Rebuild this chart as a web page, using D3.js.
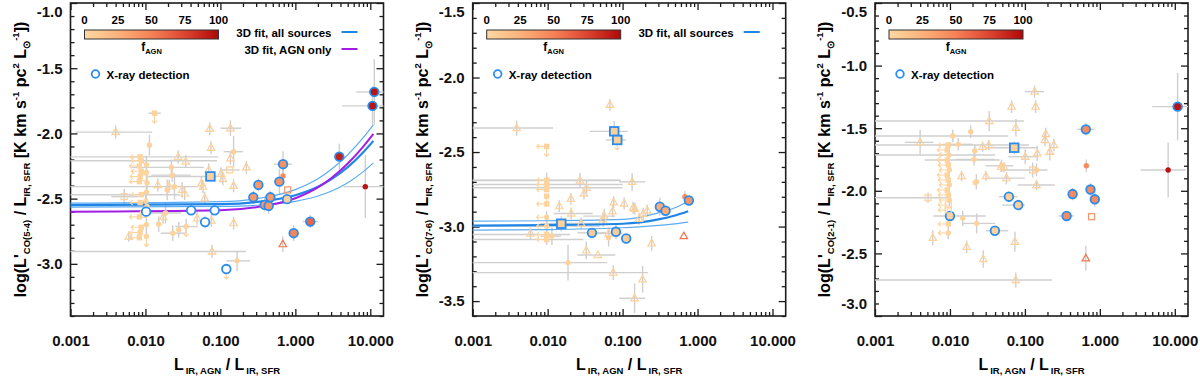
<!DOCTYPE html>
<html>
<head>
<meta charset="utf-8">
<script src="https://cdn.jsdelivr.net/npm/d3@7"></script>
<style>
	body { margin: 0; background: #fff; }
	svg { display: block; font-family: 'Liberation Sans', Arial, sans-serif; font-weight: bold; }
</style>
</head>
<body>
<div id="chart"></div>
<script>
// columns: L_IR,AGN/L_IR,SFR, log ratio, fAGN, marker, X-ray, x err low, x err high, y err, limit
// marker: c filled circle, o open circle, t open triangle, s open square, S filled square
const co54 = [
	[0.004, -1.99, 4, 't', 0, 0.00117, 0.0123, 0.05, ''],
	[0.0132, -1.845, 4, 'S', 0, 0.011, 0.016, 0, 'd'],
	[0.0113, -2.09, 4, 'c', 0, 0, 0, 0.08, ''],
	[0.072, -1.965, 6, 't', 0, 0, 0, 0.05, ''],
	[0.136, -1.96, 6, 't', 0, 0.1, 0.19, 0.06, ''],
	[0.075, -2.11, 6, 't', 0, 0, 0, 0.05, ''],
	[0.15, -2.14, 6, 'c', 0, 0.11, 0.2, 0.12, ''],
	[0.0273, -2.18, 4, 't', 0, 0, 0, 0.05, ''],
	[0.0345, -2.215, 4, 't', 0, 0, 0, 0.05, ''],
	[0.136, -2.19, 6, 't', 0, 0, 0, 0.05, ''],
	[0.0222, -2.26, 4, 'c', 0, 0.0065, 0.06, 0.06, ''],
	[0.133, -2.28, 6, 's', 0, 0.1, 0.18, 0, ''],
	[0.222, -2.26, 8, 't', 0, 0, 0, 0.05, ''],
	[0.0698, -2.28, 5, 't', 0, 0, 0, 0.05, ''],
	[0.102, -2.31, 5, 't', 0, 0, 0, 0.05, ''],
	[0.108, -2.35, 5, 't', 0, 0, 0, 0.05, ''],
	[0.0736, -2.33, 4, 'S', 1, 0, 0, 0, ''],
	[0.0227, -2.32, 4, 'c', 0, 0.012, 0.04, 0.05, ''],
	[0.0146, -2.395, 4, 't', 0, 0, 0, 0.05, ''],
	[0.0207, -2.405, 4, 't', 0, 0, 0, 0.05, ''],
	[0.0308, -2.433, 4, 't', 0, 0, 0, 0.06, ''],
	[0.0334, -2.46, 4, 't', 0, 0, 0, 0.05, ''],
	[0.0195, -2.433, 4, 'c', 0, 0, 0, 0.08, ''],
	[0.0244, -2.408, 4, 'c', 0, 0.001, 0.05, 0.1, ''],
	[0.0558, -2.382, 5, 't', 0, 0, 0, 0.05, ''],
	[0.0585, -2.408, 5, 't', 0, 0, 0, 0.05, ''],
	[0.0052, -2.485, 4, 's', 0, 0.0035, 0.008, 0.06, ''],
	[0.0618, -2.497, 5, 't', 0, 0, 0, 0.05, ''],
	[0.15, -2.402, 6, 't', 0, 0, 0, 0.05, ''],
	[0.0185, -2.61, 4, 'c', 0, 0.01, 0.03, 0.08, ''],
	[0.0172, -2.642, 4, 't', 0, 0, 0, 0.05, ''],
	[0.0489, -2.65, 4, 't', 0, 0, 0, 0.05, ''],
	[0.0759, -2.668, 5, 't', 0, 0, 0, 0.05, ''],
	[0.15, -2.688, 6, 't', 0, 0, 0, 0.05, ''],
	[0.015, -2.696, 4, 'c', 0, 0, 0, 0.06, ''],
	[0.0349, -2.714, 4, 'c', 0, 0.025, 0.05, 0.06, 'd'],
	[0.0278, -2.739, 4, 'c', 0, 0, 0, 0.06, ''],
	[0.0231, -2.765, 4, 'c', 0, 0.016, 0.034, 0.06, ''],
	[0.006, -2.79, 4, 't', 0, 0, 0, 0.04, ''],
	[0.0775, -2.906, 5, 't', 0, 0.001, 0.22, 0.05, ''],
	[0.167, -2.977, 6, 'c', 0, 0.12, 0.25, 0.08, ''],
	[0.0085, -2.18, 3, 'S', 0, 0.001, 0.094, 0, 'l'],
	[0.0088, -2.21, 3, 'S', 0, 0.001, 0.09, 0, 'l'],
	[0.0083, -2.25, 3, 'S', 0, 0, 0, 0, 'l'],
	[0.0088, -2.29, 3, 'S', 0, 0, 0, 0, 'l'],
	[0.0085, -2.33, 3, 'S', 0, 0.0105, 0.09, 0, 'l'],
	[0.0083, -2.37, 3, 'S', 0, 0, 0, 0, 'l'],
	[0.0088, -2.47, 3, 'S', 0, 0.001, 0.029, 0, 'l'],
	[0.0085, -2.53, 3, 'S', 0, 0, 0, 0, 'l'],
	[0.0083, -2.64, 3, 'S', 0, 0, 0, 0, 'l'],
	[0.0088, -2.72, 3, 'S', 0, 0, 0, 0, 'l'],
	[0.0085, -2.76, 3, 'S', 0, 0, 0, 0, 'l'],
	[0.0083, -2.8, 3, 'S', 0, 0, 0, 0, 'l'],
	[0.0103, -2.24, 3, 'c', 0, 0, 0, 0.07, ''],
	[0.0103, -2.3, 3, 'c', 0, 0, 0, 0.06, ''],
	[0.0105, -2.38, 3, 'c', 0, 0, 0, 0.06, ''],
	[0.0103, -2.45, 3, 'c', 0, 0, 0, 0.08, ''],
	[0.0101, -2.52, 3, 'c', 0, 0, 0, 0.06, ''],
	[0.0105, -2.56, 3, 'c', 0, 0, 0, 0.06, ''],
	[0.0103, -2.7, 3, 'c', 0, 0, 0, 0.08, ''],
	[0.0103, -2.79, 3, 'c', 0, 0, 0, 0, 'd'],
	[0.0096, -2.34, 3, 's', 0, 0, 0, 0, ''],
	[0.0094, -2.62, 3, 's', 0, 0, 0, 0, ''],
	[0.0102, -2.6, 3, 'o', 1, 0, 0, 0, ''],
	[0.0407, -2.59, 3, 'o', 1, 0, 0, 0, ''],
	[0.084, -2.59, 3, 'o', 1, 0, 0, 0, ''],
	[0.0625, -2.68, 3, 'o', 1, 0, 0, 0.05, ''],
	[0.12, -3.04, 3, 'o', 1, 0, 0, 0, 'd'],
	[0.685, -2.236, 42, 'c', 1, 0.52, 0.9, 0.1, ''],
	[0.685, -2.326, 45, 'c', 0, 0, 0, 0.05, ''],
	[0.612, -2.37, 42, 'c', 1, 0, 0, 0.1, ''],
	[0.321, -2.395, 38, 'c', 1, 0, 0, 0.05, ''],
	[0.79, -2.433, 40, 's', 0, 0, 0, 0, ''],
	[0.275, -2.49, 38, 'c', 1, 0, 0, 0.05, ''],
	[0.464, -2.49, 38, 'c', 1, 0, 0, 0.05, ''],
	[0.39, -2.548, 38, 'c', 1, 0, 0, 0.05, ''],
	[0.44, -2.556, 38, 'c', 1, 0, 0, 0.06, ''],
	[0.775, -2.504, 5, 'c', 1, 0, 0, 0, ''],
	[1.58, -2.676, 62, 'c', 1, 1.25, 2.0, 0.05, ''],
	[0.95, -2.765, 48, 'c', 1, 0, 0, 0.06, ''],
	[0.68, -2.849, 55, 't', 0, 0, 0, 0.06, ''],
	[3.86, -2.178, 90, 'c', 1, 0, 0, 0.1, ''],
	[11.3, -1.682, 95, 'c', 1, 6.5, 15, 0.25, ''],
	[10.7, -1.789, 95, 'c', 1, 4.2, 15, 0.15, ''],
	[8.58, -2.408, 95, 'c', 0, 4.4, 15, 0.24, ''],
]

const co76 = [
	[0.0678, -2.183, 5, 't', 0, 0, 0, 0.04, ''],
	[0.00386, -2.339, 4, 't', 0, 0.001, 0.0118, 0.05, ''],
	[0.0097, -2.462, 4, 'S', 0, 0, 0, 0, 'dl'],
	[0.0773, -2.361, 6, 'S', 1, 0.0366, 0.117, 0.07, ''],
	[0.0848, -2.419, 6, 'S', 1, 0.06, 0.11, 0, 'd'],
	[0.027, -2.691, 4, 't', 0, 0.001, 0.092, 0.05, ''],
	[0.134, -2.7, 6, 't', 0, 0.09, 0.2, 0.06, ''],
	[0.033, -2.74, 4, 't', 0, 0.001, 0.1, 0.05, ''],
	[0.0305, -2.778, 4, 't', 0, 0, 0, 0.04, ''],
	[0.0204, -2.814, 4, 't', 0, 0, 0, 0.04, ''],
	[0.0143, -2.863, 4, 't', 0, 0, 0, 0.04, ''],
	[0.0206, -2.912, 4, 't', 0, 0.012, 0.04, 0.04, ''],
	[0.076, -2.837, 5, 't', 0, 0, 0, 0.04, ''],
	[0.105, -2.845, 6, 't', 0, 0, 0, 0.04, ''],
	[0.138, -2.874, 6, 't', 0, 0, 0, 0.04, ''],
	[0.146, -2.881, 6, 't', 0, 0, 0, 0.04, ''],
	[0.188, -2.914, 6, 't', 0, 0, 0, 0.04, ''],
	[0.213, -2.892, 6, 't', 0, 0, 0, 0.04, ''],
	[0.166, -2.948, 6, 't', 0, 0, 0, 0.04, ''],
	[0.0736, -2.897, 5, 't', 0, 0, 0, 0.04, ''],
	[0.0569, -2.93, 5, 't', 0, 0.03, 0.08, 0.05, ''],
	[0.055, -2.952, 5, 't', 0, 0, 0, 0.05, ''],
	[0.028, -2.979, 4, 't', 0, 0.015, 0.05, 0.04, ''],
	[0.0152, -2.981, 4, 'S', 1, 0.008, 0.03, 0.05, ''],
	[0.0059, -3.046, 4, 't', 0, 0, 0, 0.04, ''],
	[0.0114, -3.064, 4, 'c', 0, 0.008, 0.015, 0.06, ''],
	[0.065, -3.046, 5, 't', 0, 0.04, 0.1, 0.04, ''],
	[0.065, -3.075, 5, 'c', 0, 0, 0, 0.06, ''],
	[0.0327, -3.16, 4, 't', 0, 0, 0, 0.06, ''],
	[0.0469, -3.191, 4, 't', 0, 0.025, 0.08, 0, ''],
	[0.0187, -3.242, 4, 'c', 0, 0.001, 0.062, 0.12, ''],
	[0.075, -3.309, 5, 't', 0, 0.001, 0.218, 0.05, ''],
	[0.1445, -3.481, 6, 't', 0, 0.09, 0.2, 0.1, ''],
	[0.185, -3.354, 6, 't', 0, 0, 0, 0.09, ''],
	[0.244, -3.113, 7, 't', 0, 0, 0, 0.05, ''],
	[0.656, -3.064, 55, 't', 0, 0, 0, 0, ''],
	[0.678, -2.8, 45, 'c', 0, 0, 0, 0.04, ''],
	[0.314, -2.867, 28, 'c', 1, 0, 0, 0.06, ''],
	[0.374, -2.894, 28, 'c', 1, 0, 0, 0, ''],
	[0.766, -2.825, 40, 'c', 1, 0, 0, 0, ''],
	[0.039, -3.042, 8, 'c', 1, 0.025, 0.06, 0, ''],
	[0.0815, -3.035, 8, 'c', 1, 0, 0, 0.05, ''],
	[0.1117, -3.08, 8, 'c', 1, 0, 0, 0, ''],
	[0.0097, -2.689, 3, 'S', 0, 0.001, 0.095, 0.05, 'l'],
	[0.0097, -2.718, 3, 'S', 0, 0.001, 0.1, 0, 'l'],
	[0.0097, -2.752, 3, 'S', 0, 0, 0, 0, 'l'],
	[0.0097, -2.796, 3, 'S', 0, 0, 0, 0, 'd'],
	[0.0097, -2.848, 3, 'S', 0, 0, 0, 0, 'l'],
	[0.0097, -2.937, 3, 'c', 0, 0, 0, 0.04, 'l'],
	[0.0097, -2.997, 3, 'c', 0, 0.001, 0.05, 0.05, 'l'],
	[0.0097, -3.053, 3, 'S', 0, 0.001, 0.02, 0.07, 'l'],
	[0.0097, -3.087, 3, 'S', 0, 0.001, 0.03, 0, 'l'],
]

const co21 = [
	[0.1345, -1.208, 6, 't', 0, 0.1, 0.18, 0.05, ''],
	[0.0665, -1.328, 6, 't', 0, 0, 0, 0.05, ''],
	[0.139, -1.328, 6, 't', 0, 0, 0, 0.05, ''],
	[10.9, -1.328, 95, 'c', 1, 5, 15, 0.27, ''],
	[0.0334, -1.443, 5, 't', 0, 0.001, 0.097, 0.08, ''],
	[0.0759, -1.496, 6, 't', 0, 0, 0, 0.07, ''],
	[0.004, -1.613, 4, 't', 0, 0.0025, 0.006, 0.1, ''],
	[0.0109, -1.562, 4, 'c', 0, 0.001, 0.06, 0.05, ''],
	[0.0189, -1.528, 4, 'c', 0, 0, 0, 0.05, ''],
	[0.0129, -1.629, 4, 'c', 0, 0.008, 0.02, 0.05, ''],
	[0.072, -1.656, 5, 'S', 1, 0.03, 0.15, 0.05, ''],
	[0.0273, -1.648, 5, 't', 0, 0, 0, 0.04, ''],
	[0.033, -1.634, 5, 't', 0, 0, 0, 0.04, ''],
	[0.101, -1.728, 6, 't', 0, 0.06, 0.15, 0.06, ''],
	[0.146, -1.701, 6, 't', 0, 0, 0, 0.06, ''],
	[0.19, -1.546, 8, 't', 0, 0, 0, 0.05, ''],
	[0.185, -1.594, 8, 't', 0, 0, 0, 0.05, ''],
	[0.244, -1.634, 8, 't', 0, 0, 0, 0.05, ''],
	[0.215, -1.688, 8, 't', 0, 0, 0, 0.07, ''],
	[0.65, -1.509, 45, 'c', 1, 0.5, 0.85, 0.05, ''],
	[0.66, -1.8, 45, 'c', 0, 0, 0, 0.05, ''],
	[8.15, -1.834, 95, 'c', 0, 3.5, 14, 0.22, ''],
	[0.0215, -1.68, 4, 'c', 0, 0, 0, 0.05, ''],
	[0.021, -1.749, 4, 'c', 0, 0.012, 0.04, 0.05, ''],
	[0.0225, -1.927, 4, 'c', 0, 0, 0, 0.06, ''],
	[0.0218, -1.935, 4, 'c', 0, 0, 0, 0, ''],
	[0.0143, -1.882, 4, 't', 0, 0, 0, 0.04, ''],
	[0.0489, -1.8, 4, 'c', 0, 0.03, 0.07, 0.05, ''],
	[0.0302, -1.882, 4, 't', 0, 0, 0, 0.04, ''],
	[0.0479, -1.807, 5, 't', 0, 0, 0, 0.04, ''],
	[0.0527, -1.812, 5, 't', 0, 0, 0, 0.04, ''],
	[0.0567, -1.899, 5, 't', 0, 0.03, 0.1, 0.05, ''],
	[0.127, -1.834, 6, 's', 0, 0.05, 0.2, 0.06, ''],
	[0.143, -1.834, 6, 'c', 0, 0, 0, 0.05, ''],
	[0.143, -1.954, 6, 't', 0, 0.08, 0.25, 0.04, ''],
	[0.75, -1.99, 45, 'c', 1, 0, 0, 0.05, ''],
	[0.433, -2.026, 45, 'c', 1, 0, 0, 0.05, ''],
	[0.857, -2.068, 45, 'c', 1, 0, 0, 0.06, ''],
	[0.0612, -2.047, 5, 'c', 1, 0.045, 0.08, 0.03, ''],
	[0.0815, -2.114, 5, 'c', 1, 0.05, 0.1, 0.03, ''],
	[0.36, -2.201, 45, 'c', 1, 0.28, 0.45, 0, ''],
	[0.775, -2.207, 40, 's', 0, 0, 0, 0, ''],
	[0.01, -2.201, 4, 'c', 1, 0.006, 0.03, 0, ''],
	[0.0398, -2.319, 4, 'c', 1, 0.03, 0.06, 0, ''],
	[0.0148, -2.22, 4, 'c', 0, 0, 0, 0.06, ''],
	[0.0227, -2.26, 4, 'c', 0, 0.015, 0.04, 0.08, ''],
	[0.0051, -2.055, 4, 's', 0, 0.001, 0.01, 0.04, ''],
	[0.0059, -2.375, 4, 't', 0, 0, 0, 0.06, ''],
	[0.0167, -2.447, 4, 't', 0, 0, 0, 0.05, ''],
	[0.0736, -2.407, 5, 't', 0, 0, 0, 0.08, ''],
	[0.0278, -2.545, 4, 't', 0, 0, 0, 0.07, ''],
	[0.65, -2.539, 55, 't', 0, 0, 0, 0.1, ''],
	[0.0756, -2.712, 5, 't', 0, 0.001, 0.23, 0.06, ''],
	[0.0095, -1.634, 3, 'S', 0, 0.001, 0.113, 0, 'l'],
	[0.0092, -1.674, 3, 'S', 0, 0, 0, 0, 'l'],
	[0.0097, -1.714, 3, 'c', 0, 0.001, 0.04, 0.05, 'l'],
	[0.0092, -1.754, 3, 'S', 0, 0.0046, 0.046, 0, 'l'],
	[0.0095, -1.794, 3, 'S', 0, 0, 0, 0, 'l'],
	[0.0098, -1.834, 3, 'c', 0, 0, 0, 0.06, 'l'],
	[0.0092, -1.874, 3, 'S', 0, 0, 0, 0, 'l'],
	[0.0095, -1.914, 3, 'S', 0, 0, 0, 0, 'l'],
	[0.0098, -1.954, 3, 'c', 0, 0, 0, 0.05, 'l'],
	[0.0092, -1.994, 3, 'S', 0, 0, 0, 0, 'l'],
	[0.0095, -2.034, 3, 'S', 0, 0, 0, 0, 'l'],
	[0.0098, -2.074, 3, 'c', 0, 0, 0, 0.05, 'l'],
	[0.0095, -2.113, 3, 's', 0, 0, 0, 0, 'l'],
	[0.0095, -2.153, 3, 's', 0, 0, 0, 0, 'l'],
	[0.0095, -2.265, 3, 'S', 0, 0, 0, 0, 'l'],
	[0.0095, -2.337, 3, 'c', 0, 0, 0, 0.05, 'l'],
]

// fit curves: [x, log ratio]
const fit54All = [[0.001, -2.55], [0.1, -2.542], [0.3, -2.526], [1, -2.474], [2, -2.409], [3, -2.352], [5, -2.258], [8, -2.146], [11, -2.057]]
const fit54AllHi = [[0.001, -2.535], [0.1, -2.523], [0.3, -2.501], [1, -2.431], [2, -2.348], [3, -2.277], [5, -2.164], [8, -2.035], [11, -1.935]]
const fit54AllLo = [[0.001, -2.565], [0.1, -2.56], [0.3, -2.551], [1, -2.521], [2, -2.48], [3, -2.444], [5, -2.378], [8, -2.295], [11, -2.226]]
const fit54Agn = [[0.001, -2.6], [0.1, -2.589], [0.3, -2.566], [1, -2.497], [2, -2.414], [3, -2.344], [5, -2.231], [8, -2.103], [11, -2.004]]
const fit76All = [[0.001, -2.993], [0.01, -2.99], [0.1, -2.981], [0.3, -2.952], [0.5, -2.926], [0.75, -2.897]]
const fit76AllHi = [[0.001, -2.964], [0.01, -2.961], [0.1, -2.952], [0.3, -2.908], [0.5, -2.874], [0.75, -2.83]]
const fit76AllLo = [[0.001, -3.024], [0.01, -3.02], [0.1, -3.008], [0.3, -2.992], [0.5, -2.982], [0.75, -2.97]]

const xTicks = [0.001, 0.01, 0.1, 1, 10]
const xTickLabels = ['0.001', '0.010', '0.100', '1.000', '10.000']
const fagnTicks = [0, 25, 50, 75, 100]
const fagnColors = ['#fdd8a3', '#fcb27b', '#f68157', '#dd4431', '#b00808']

class ScatterPanel {
	constructor(params) {
		this.attrs = Object.assign(
			{
				svg: null,
				id: 'p1',
				left: 70,
				top: 3,
				size: 313,
				xDomain: [0.001, 15],
				yDomain: [-3.4, -1.0],
				line: 'CO(5-4)',
				titleLength: 276,
				data: [],
				fits: [],
				legend: [],
				colors: {
					xray: '#2a8cf0',
					errorBar: '#cfcfcf',
					axis: '#1c1c1c',
				},
			},
			params
		)
		this.main()
	}

	main() {
		const { attrs } = this

		this.x = d3.scaleLog().domain(attrs.xDomain).range([0, attrs.size]).clamp(true)
		this.y = d3.scaleLinear().domain(attrs.yDomain).range([attrs.size, 0])
		this.color = d3.scaleLinear().domain(fagnTicks).range(fagnColors)

		this.chart = attrs.svg.append('g')
			.attr('transform', `translate(${attrs.left},${attrs.top})`)

		this.drawAxes()
		this.drawErrorBars()
		this.drawFits()
		this.drawPoints()
		this.drawColorbar()
		this.drawLegend()
		this.drawTitles()
	}

	drawAxes() {
		const { attrs, x, y } = this
		const size = attrs.size

		const xMinor = x.ticks().filter(d => !xTicks.some(t => Math.abs(t - d) < t * 1e-6))
		const yAll = d3.range(Math.round(attrs.yDomain[0] * 10), Math.round(attrs.yDomain[1] * 10) + 1).map(d => d / 10)
		const yMajor = yAll.filter(d => Math.abs(Math.round(d * 2) - d * 2) < 1e-6)
		const yMinor = yAll.filter(d => !yMajor.includes(d))

		const style = g => {
			g.attr('font-family', null).attr('font-size', 15).attr('font-weight', 'bold')
			g.select('.domain').remove()
			g.selectAll('line').attr('stroke', attrs.colors.axis).attr('stroke-width', 1.3)
			g.selectAll('text').attr('fill', '#111')
		}

		const blank = () => ''

		// bottom + top
		this.chart.append('g').attr('transform', `translate(0,${size})`)
			.call(d3.axisBottom(x).tickValues(xTicks).tickFormat((d, i) => xTickLabels[i]).tickSize(-7).tickPadding(19))
			.call(style)
		this.chart.append('g').attr('transform', `translate(0,${size})`)
			.call(d3.axisBottom(x).tickValues(xMinor).tickFormat(blank).tickSize(-4))
			.call(style)
		this.chart.append('g')
			.call(d3.axisTop(x).tickValues(xTicks).tickFormat(blank).tickSize(-7))
			.call(style)
		this.chart.append('g')
			.call(d3.axisTop(x).tickValues(xMinor).tickFormat(blank).tickSize(-4))
			.call(style)

		// left + right
		const left = this.chart.append('g')
			.call(d3.axisLeft(y).tickValues(yMajor).tickFormat(d => d.toFixed(1)).tickSize(-7).tickPadding(8))
			.call(style)
		left.selectAll('.tick text')
			.attr('y', d => Math.max(9, Math.min(size - 12, y(d))) - y(d))
		this.chart.append('g')
			.call(d3.axisLeft(y).tickValues(yMinor).tickFormat(blank).tickSize(-4))
			.call(style)
		this.chart.append('g').attr('transform', `translate(${size},0)`)
			.call(d3.axisRight(y).tickValues(yMajor).tickFormat(blank).tickSize(-7))
			.call(style)
		this.chart.append('g').attr('transform', `translate(${size},0)`)
			.call(d3.axisRight(y).tickValues(yMinor).tickFormat(blank).tickSize(-4))
			.call(style)

		this.chart.append('rect')
			.attr('width', size)
			.attr('height', size)
			.attr('fill', 'none')
			.attr('stroke', attrs.colors.axis)
			.attr('stroke-width', 1.6)
	}

	drawErrorBars() {
		const { attrs, x, y } = this
		const g = this.chart.append('g')
			.attr('stroke', attrs.colors.errorBar)
			.attr('stroke-width', 1.4)

		g.selectAll('line.xerr')
			.data(attrs.data.filter(d => d[5] > 0))
			.join('line')
			.attr('class', 'xerr')
			.attr('x1', d => x(d[5]))
			.attr('x2', d => x(d[6]))
			.attr('y1', d => y(d[1]))
			.attr('y2', d => y(d[1]))

		g.selectAll('line.yerr')
			.data(attrs.data.filter(d => d[7] > 0))
			.join('line')
			.attr('class', 'yerr')
			.attr('x1', d => x(d[0]))
			.attr('x2', d => x(d[0]))
			.attr('y1', d => y(d[1] - d[7]))
			.attr('y2', d => y(d[1] + d[7]))
	}

	drawFits() {
		const { attrs, x, y } = this
		const line = d3.line()
			.x(d => x(d[0]))
			.y(d => y(d[1]))
			.curve(d3.curveMonotoneX)

		this.chart.append('g')
			.selectAll('path')
			.data(attrs.fits)
			.join('path')
			.attr('d', d => line(d.points))
			.attr('fill', 'none')
			.attr('stroke', d => d.color)
			.attr('stroke-width', d => d.width)
	}

	drawPoints() {
		const { attrs, x, y, color } = this
		const xray = attrs.colors.xray

		const g = this.chart.append('g')

		// limit arrows
		g.selectAll('path.arrow')
			.data(attrs.data.filter(d => d[8]))
			.join('path')
			.attr('class', 'arrow')
			.attr('fill', 'none')
			.attr('stroke', d => color(d[2]))
			.attr('stroke-width', 1.1)
			.attr('d', d => {
				const px = x(d[0])
				const py = y(d[1])
				let p = ''
				if (d[8].includes('d')) {
					p += `M${px},${py}V${py + 10}M${px - 2.5},${py + 7.5}L${px},${py + 10}L${px + 2.5},${py + 7.5}`
				}
				if (d[8].includes('l')) {
					p += `M${px},${py}H${px - 10}M${px - 7.5},${py - 2.5}L${px - 10},${py}L${px - 7.5},${py + 2.5}`
				}
				return p
			})

		const marks = g.selectAll('g.mark')
			.data(attrs.data)
			.join('g')
			.attr('class', 'mark')
			.attr('transform', d => `translate(${x(d[0])},${y(d[1])})`)

		marks.each(function (d) {
			const m = d3.select(this)
			const c = color(d[2])
			const type = d[3]
			const isXray = d[4] === 1

			if (type === 'c') {
				if (isXray) {
					m.append('circle').attr('r', 4.3).attr('fill', c).attr('stroke', xray).attr('stroke-width', 1.8)
				} else {
					m.append('circle').attr('r', 2.7).attr('fill', c)
				}
			} else if (type === 'o') {
				m.append('circle').attr('r', 4.3).attr('fill', '#fff').attr('stroke', xray).attr('stroke-width', 1.8)
			} else if (type === 't') {
				m.append('path')
					.attr('d', 'M0,-4L3.7,2.6L-3.7,2.6Z')
					.attr('fill', 'none')
					.attr('stroke', c)
					.attr('stroke-width', 1.2)
			} else if (type === 's') {
				m.append('rect')
					.attr('x', -3).attr('y', -3).attr('width', 6).attr('height', 6)
					.attr('fill', 'none')
					.attr('stroke', c)
					.attr('stroke-width', 1.2)
			} else if (type === 'S') {
				const h = isXray ? 4.3 : 2.7
				m.append('rect')
					.attr('x', -h).attr('y', -h).attr('width', h * 2).attr('height', h * 2)
					.attr('fill', c)
					.attr('stroke', isXray ? xray : 'none')
					.attr('stroke-width', 1.8)
			}
		})
	}

	drawColorbar() {
		const { attrs, color } = this
		const bx = 14
		const bw = 134
		const gradId = `grad-${attrs.id}`

		const grad = this.chart.append('defs')
			.append('linearGradient')
			.attr('id', gradId)
		grad.selectAll('stop')
			.data(d3.range(0, 101, 10))
			.join('stop')
			.attr('offset', d => `${d}%`)
			.attr('stop-color', d => color(d))

		this.chart.append('rect')
			.attr('x', bx)
			.attr('y', 27)
			.attr('width', bw)
			.attr('height', 9)
			.attr('fill', `url(#${gradId})`)
			.attr('stroke', '#333')
			.attr('stroke-width', 1)

		this.chart.append('g')
			.selectAll('text')
			.data(fagnTicks)
			.join('text')
			.attr('x', d => bx + bw * d / 100)
			.attr('y', 21)
			.attr('text-anchor', 'middle')
			.attr('font-size', 11.5)
			.text(d => d)

		const lab = this.chart.append('text')
			.attr('x', bx + bw / 2)
			.attr('y', 48)
			.attr('text-anchor', 'middle')
			.attr('font-size', 12)
		lab.append('tspan').text('f')
		lab.append('tspan').attr('font-size', 7.5).attr('dy', 3).text('AGN')
	}

	drawLegend() {
		const { attrs } = this

		const rows = this.chart.append('g')
			.selectAll('g')
			.data(attrs.legend)
			.join('g')
			.attr('transform', (d, i) => `translate(0,${34 + i * 17})`)

		rows.append('text')
			.attr('x', 261)
			.attr('text-anchor', 'end')
			.attr('font-size', 11.5)
			.text(d => d.label)
		rows.append('line')
			.attr('x1', 271)
			.attr('x2', 287)
			.attr('y1', -5)
			.attr('y2', -5)
			.attr('stroke', d => d.color)
			.attr('stroke-width', 2)

		this.chart.append('circle')
			.attr('cx', 25)
			.attr('cy', 71)
			.attr('r', 3.8)
			.attr('fill', '#fff')
			.attr('stroke', attrs.colors.xray)
			.attr('stroke-width', 1.8)
		this.chart.append('text')
			.attr('x', 36)
			.attr('y', 75.5)
			.attr('font-size', 11.5)
			.text('X-ray detection')
	}

	drawTitles() {
		const { attrs } = this
		const size = attrs.size
		const sub = 9.5

		const xt = this.chart.append('text')
			.attr('x', size / 2)
			.attr('y', 367)
			.attr('text-anchor', 'middle')
			.attr('font-size', 16)
		xt.append('tspan').text('L')
		xt.append('tspan').attr('font-size', sub).attr('dx', 2).attr('dy', 4).text('IR, AGN')
		xt.append('tspan').attr('dy', -4).text(' / L')
		xt.append('tspan').attr('font-size', sub).attr('dx', 2).attr('dy', 4).text('IR, SFR')

		const yt = this.chart.append('text')
			.attr('transform', `translate(-45,${size / 2})rotate(-90)`)
			.attr('text-anchor', 'middle')
		const parts = [
			['log(L\'', 0, 16],
			[attrs.line, 4, sub],
			[' / L', -4, 16],
			['IR, SFR', 4, sub],
			[' [K km s', -4, 16],
			['-1', -7, sub],
			[' pc', 7, 16],
			['2', -7, sub],
			[' L', 7, 16],
			['\u2299', 4, sub],
			['-1', -11, sub],
			['])', 7, 16],
		]
		const spans = parts.map(p => yt.append('tspan').attr('dy', p[1]).attr('font-size', p[2]).text(p[0]))

		// fit the rotated title to the length it has in the figure
		const len = yt.node().getBBox().width
		const k = len > 0 ? attrs.titleLength / len : 1
		spans.forEach((s, i) => s.attr('font-size', parts[i][2] * k))
	}
}

const svg = d3.select('#chart')
	.append('svg')
	.attr('width', 1200)
	.attr('height', 379)

const blue = '#1f86e8'
const lightBlue = '#5aabf2'
const purple = '#a21ee6'

new ScatterPanel({
	svg,
	id: 'p54',
	left: 70.5,
	yDomain: [-3.4, -1.0],
	line: 'CO(5-4)',
	data: co54,
	fits: [
		{ points: fit54AllHi, color: lightBlue, width: 1.2 },
		{ points: fit54AllLo, color: lightBlue, width: 1.2 },
		{ points: fit54All, color: blue, width: 2.2 },
		{ points: fit54Agn, color: purple, width: 2 },
	],
	legend: [
		{ label: '3D fit, all sources', color: blue },
		{ label: '3D fit, AGN only', color: purple },
	],
})

new ScatterPanel({
	svg,
	id: 'p76',
	left: 472.7,
	yDomain: [-3.6, -1.5],
	line: 'CO(7-6)',
	data: co76,
	fits: [
		{ points: fit76AllHi, color: lightBlue, width: 1.2 },
		{ points: fit76AllLo, color: lightBlue, width: 1.2 },
		{ points: fit76All, color: blue, width: 2.2 },
	],
	legend: [
		{ label: '3D fit, all sources', color: blue },
	],
})

new ScatterPanel({
	svg,
	id: 'p21',
	left: 875,
	yDomain: [-3.0, -0.5],
	line: 'CO(2-1)',
	data: co21,
})
</script>
</body>
</html>
